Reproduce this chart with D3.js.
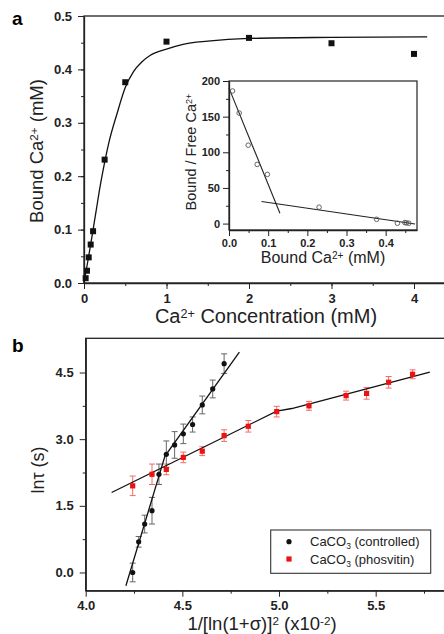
<!DOCTYPE html>
<html>
<head>
<meta charset="utf-8">
<script src="https://cdn.jsdelivr.net/npm/d3@7"></script>
<style>
  body { margin: 0; background: #fff; }
  svg { display: block; font-family: "Liberation Sans", Arial, sans-serif; }
  .tick text { font-weight: bold; fill: #222; }
  .tick line, .domain { stroke: #222; }
</style>
</head>
<body>
<script>
// panel a: binding curve
const concX = [0.02, 0.036, 0.057, 0.081, 0.11, 0.25, 0.5, 1, 2, 3, 4];
const boundY = [0.009, 0.023, 0.048, 0.072, 0.097, 0.231, 0.376, 0.452, 0.459, 0.449, 0.429];
const fitX = [0, 0.05, 0.1, 0.15, 0.2, 0.25, 0.3, 0.4, 0.5, 0.6, 0.7, 0.8, 1.0, 1.2, 1.5, 2.0, 3.0, 4.16];
const fitY = [0, 0.044, 0.09, 0.138, 0.185, 0.226, 0.262, 0.317, 0.366, 0.396, 0.414, 0.426, 0.438, 0.447, 0.453, 0.458, 0.46, 0.461];
const aXTicks = [0, 1, 2, 3, 4];
const aYTicks = [0, 0.1, 0.2, 0.3, 0.4, 0.5];

// inset: scatchard plot
const ratioX = [0.009, 0.026, 0.049, 0.072, 0.098, 0.23, 0.377, 0.43, 0.449, 0.453, 0.459];
const ratioY = [186, 155, 110, 83, 69, 23, 6, 0.5, 1.4, 1.0, 0.5];
const steepX = [0, 0.13];
const steepY = [190, 14.5];
const flatX = [0.083, 0.475];
const flatY = [31, -0.5];
const inXTicks = [0, 0.1, 0.2, 0.3, 0.4];
const inYTicks = [0, 50, 100, 150, 200];

// panel b: induction time
const ctrlX = [4.243, 4.274, 4.305, 4.343, 4.379, 4.417, 4.46, 4.505, 4.553, 4.603, 4.657, 4.716];
const ctrlY = [0.0, 0.69, 1.09, 1.39, 2.21, 2.66, 2.87, 3.12, 3.33, 3.77, 4.13, 4.70];
const ctrlErr = [0.21, 0.12, 0.2, 0.3, 0.23, 0.3, 0.3, 0.22, 0.17, 0.2, 0.2, 0.22];
const phosX = [4.243, 4.343, 4.417, 4.505, 4.603, 4.716, 4.841, 4.988, 5.155, 5.347, 5.453, 5.567, 5.691];
const phosY = [1.95, 2.21, 2.32, 2.59, 2.73, 3.08, 3.29, 3.62, 3.75, 3.98, 4.03, 4.28, 4.46];
const phosErr = [0.22, 0.23, 0.12, 0.12, 0.1, 0.13, 0.13, 0.12, 0.1, 0.1, 0.13, 0.13, 0.1];
// two-segment fits
const ctrlFitX = [4.208, 4.41, 4.795];
const ctrlFitY = [-0.3, 2.62, 4.96];
const phosFitX = [4.134, 4.988, 5.066, 5.78];
const phosFitY = [1.80, 3.63, 3.69, 4.51];
const bXTicks = [4.0, 4.5, 5.0, 5.5];
const bYTicks = [0, 1.5, 3.0, 4.5];
const legendNames = ["controlled", "phosvitin"];

const svg = d3.select("body").append("svg")
  .attr("width", 444)
  .attr("height", 634);

// helper: major + minor ticks on an axis
function addAxis(g, make, scale, major, minor, fmt, size, pad) {
  g.call(make(scale).tickValues(minor).tickFormat("").tickSize(3).tickSizeOuter(0))
  g.select(".domain").remove()
  const m = g.append("g")
  m.call(make(scale).tickValues(major).tickFormat(d3.format(fmt)).tickSize(6).tickSizeOuter(0).tickPadding(pad))
  m.selectAll(".tick text").style("font-size", size + "px")
  m.select(".domain").attr("stroke-width", 1.3)
}

function supText(sel, parts) {
  // parts: [text, "sup"|"sub"|null, dy]
  parts.forEach(p => {
    const t = sel.append("tspan").text(p[0])
    if (p[1] == "sup") t.attr("dy", "-0.4em").style("font-size", "0.63em")
    if (p[1] == "sub") t.attr("dy", "0.4em").style("font-size", "0.65em")
    if (p[2]) t.attr("dy", p[2])
  })
}

// ---------- panel a ----------
const xa = d3.scaleLinear().domain([0, 4.4]).range([84, 447]);
const ya = d3.scaleLinear().domain([0, 0.5]).range([283, 16]);

svg.append("rect")
  .attr("x", 84).attr("y", 16)
  .attr("width", 380).attr("height", 267)
  .attr("fill", "none").attr("stroke", "#222").attr("stroke-width", 1.3)

addAxis(svg.append("g").attr("transform", "translate(0,283)"), d3.axisBottom, xa,
  aXTicks, d3.range(0.5, 4.4, 0.5), "d", 13, 5)
addAxis(svg.append("g").attr("transform", "translate(84,0)"), d3.axisLeft, ya,
  aYTicks, d3.range(0.05, 0.5, 0.05), ".1f", 13, 6)

svg.append("path")
  .datum(fitX.map((d, i) => [d, fitY[i]]))
  .attr("fill", "none").attr("stroke", "#111").attr("stroke-width", 1.3)
  .attr("d", d3.line().x(d => xa(d[0])).y(d => ya(d[1])).curve(d3.curveMonotoneX))

svg.selectAll("rect.pa")
  .data(concX.map((d, i) => [d, boundY[i]]))
  .join("rect")
  .attr("class", "pa")
  .attr("x", d => xa(d[0]) - 3).attr("y", d => ya(d[1]) - 3)
  .attr("width", 6).attr("height", 6)
  .attr("fill", "#111")

svg.append("text").text("a")
  .attr("x", 12).attr("y", 25)
  .style("font-weight", "bold").style("font-size", "19px")

supText(svg.append("text")
  .attr("transform", "translate(43,151) rotate(-90)")
  .attr("text-anchor", "middle")
  .style("font-size", "18.5px").attr("fill", "#222"),
  [["Bound Ca"], ["2+", "sup"], [" (mM)", null, "0.25em"]])

supText(svg.append("text")
  .attr("x", 266).attr("y", 323)
  .attr("text-anchor", "middle")
  .style("font-size", "20px").attr("fill", "#222"),
  [["Ca"], ["2+", "sup"], [" Concentration (mM)", null, "0.25em"]])

// ---------- inset ----------
const xi = d3.scaleLinear().domain([0, 0.48]).range([229, 417]);
const yi = d3.scaleLinear().domain([-9, 200]).range([230, 81]);

svg.append("rect")
  .attr("x", 229).attr("y", 81)
  .attr("width", 188).attr("height", 149)
  .attr("fill", "#fff").attr("stroke", "#222").attr("stroke-width", 1.2)

addAxis(svg.append("g").attr("transform", "translate(0,230)"), d3.axisBottom, xi,
  inXTicks, d3.range(0.05, 0.48, 0.1), ".1f", 11, 3)
addAxis(svg.append("g").attr("transform", "translate(229,0)"), d3.axisLeft, yi,
  inYTicks, d3.range(25, 200, 50), "d", 11, 3)

const lineI = d3.line().x(d => xi(d[0])).y(d => yi(d[1]))
svg.append("path").datum(steepX.map((d, i) => [d, steepY[i]]))
  .attr("fill", "none").attr("stroke", "#222").attr("stroke-width", 1.1).attr("d", lineI)
svg.append("path").datum(flatX.map((d, i) => [d, flatY[i]]))
  .attr("fill", "none").attr("stroke", "#222").attr("stroke-width", 1.1).attr("d", lineI)

svg.selectAll("circle.in")
  .data(ratioX.map((d, i) => [d, ratioY[i]]))
  .join("circle")
  .attr("class", "in")
  .attr("cx", d => xi(d[0])).attr("cy", d => yi(d[1]))
  .attr("r", 2.3)
  .attr("fill", "none").attr("stroke", "#555").attr("stroke-width", 0.9)

supText(svg.append("text")
  .attr("transform", "translate(196,152) rotate(-90)")
  .attr("text-anchor", "middle")
  .style("font-size", "14.5px").attr("fill", "#222"),
  [["Bound / Free Ca"], ["2+", "sup"]])

supText(svg.append("text")
  .attr("x", 323).attr("y", 263)
  .attr("text-anchor", "middle")
  .style("font-size", "16px").attr("fill", "#222"),
  [["Bound Ca"], ["2+", "sup"], [" (mM)", null, "0.25em"]])

// ---------- panel b ----------
const xb = d3.scaleLinear().domain([4.0, 5.9]).range([85.7, 453]);
const yb = d3.scaleLinear().domain([-0.41, 5.27]).range([590.7, 338.3]);

svg.append("rect")
  .attr("x", 85.7).attr("y", 338.3)
  .attr("width", 380).attr("height", 252.4)
  .attr("fill", "none").attr("stroke", "#222").attr("stroke-width", 1.3)

addAxis(svg.append("g").attr("transform", "translate(0,590.7)"), d3.axisBottom, xb,
  bXTicks, d3.range(4.25, 5.9, 0.5), ".1f", 13, 4)
addAxis(svg.append("g").attr("transform", "translate(85.7,0)"), d3.axisLeft, yb,
  bYTicks, [0.75, 2.25, 3.75], ".1f", 13, 6)

const lineB = d3.line().x(d => xb(d[0])).y(d => yb(d[1]))

// error bars
function errBars(xs, ys, es, color) {
  const g = svg.append("g").attr("stroke", color).attr("stroke-width", 1)
  xs.forEach((x, i) => {
    const cx = xb(x), top = yb(ys[i] + es[i]), bot = yb(ys[i] - es[i])
    g.append("line").attr("x1", cx).attr("x2", cx).attr("y1", top).attr("y2", bot)
    g.append("line").attr("x1", cx - 3).attr("x2", cx + 3).attr("y1", top).attr("y2", top)
    g.append("line").attr("x1", cx - 3).attr("x2", cx + 3).attr("y1", bot).attr("y2", bot)
  })
}
errBars(phosX, phosY, phosErr, "#f26a6a")
errBars(ctrlX, ctrlY, ctrlErr, "#666")

svg.append("path").datum(ctrlFitX.map((d, i) => [d, ctrlFitY[i]]))
  .attr("fill", "none").attr("stroke", "#111").attr("stroke-width", 1.3).attr("d", lineB)
svg.append("path").datum(phosFitX.map((d, i) => [d, phosFitY[i]]))
  .attr("fill", "none").attr("stroke", "#111").attr("stroke-width", 1.3).attr("d", lineB)

svg.selectAll("rect.ph")
  .data(phosX.map((d, i) => [d, phosY[i]]))
  .join("rect")
  .attr("class", "ph")
  .attr("x", d => xb(d[0]) - 2.6).attr("y", d => yb(d[1]) - 2.6)
  .attr("width", 5.2).attr("height", 5.2)
  .attr("fill", "#ee1111")

svg.selectAll("circle.ct")
  .data(ctrlX.map((d, i) => [d, ctrlY[i]]))
  .join("circle")
  .attr("class", "ct")
  .attr("cx", d => xb(d[0])).attr("cy", d => yb(d[1]))
  .attr("r", 2.6)
  .attr("fill", "#111")

// legend
const leg = svg.append("g")
leg.append("rect")
  .attr("x", 270.7).attr("y", 530)
  .attr("width", 160).attr("height", 43.3)
  .attr("fill", "#fff").attr("stroke", "#333").attr("stroke-width", 1.1)
leg.append("circle").attr("cx", 289).attr("cy", 541.7).attr("r", 2.6).attr("fill", "#111")
leg.append("rect").attr("x", 286.4).attr("y", 556.4).attr("width", 5.2).attr("height", 5.2).attr("fill", "#ee1111")
legendNames.forEach((n, i) => {
  supText(leg.append("text")
    .attr("x", 310).attr("y", 546 + i * 17.5)
    .style("font-size", "13px").attr("fill", "#222"),
    [["CaCO"], ["3", "sub"], [" (" + n + ")", null, "-0.25em"]])
})

svg.append("text").text("b")
  .attr("x", 12).attr("y", 352)
  .style("font-weight", "bold").style("font-size", "19px")

supText(svg.append("text")
  .attr("transform", "translate(44,470) rotate(-90)")
  .attr("text-anchor", "middle")
  .style("font-size", "18px").attr("fill", "#222"),
  [["ln\u03c4 (s)"]])

supText(svg.append("text")
  .attr("x", 262).attr("y", 630)
  .attr("text-anchor", "middle")
  .style("font-size", "18.5px").attr("fill", "#222"),
  [["1/[ln(1+\u03c3)]"], ["2", "sup"], ["  (x10", null, "0.25em"], ["-2", "sup"], [")", null, "0.25em"]])
</script>
</body>
</html>
